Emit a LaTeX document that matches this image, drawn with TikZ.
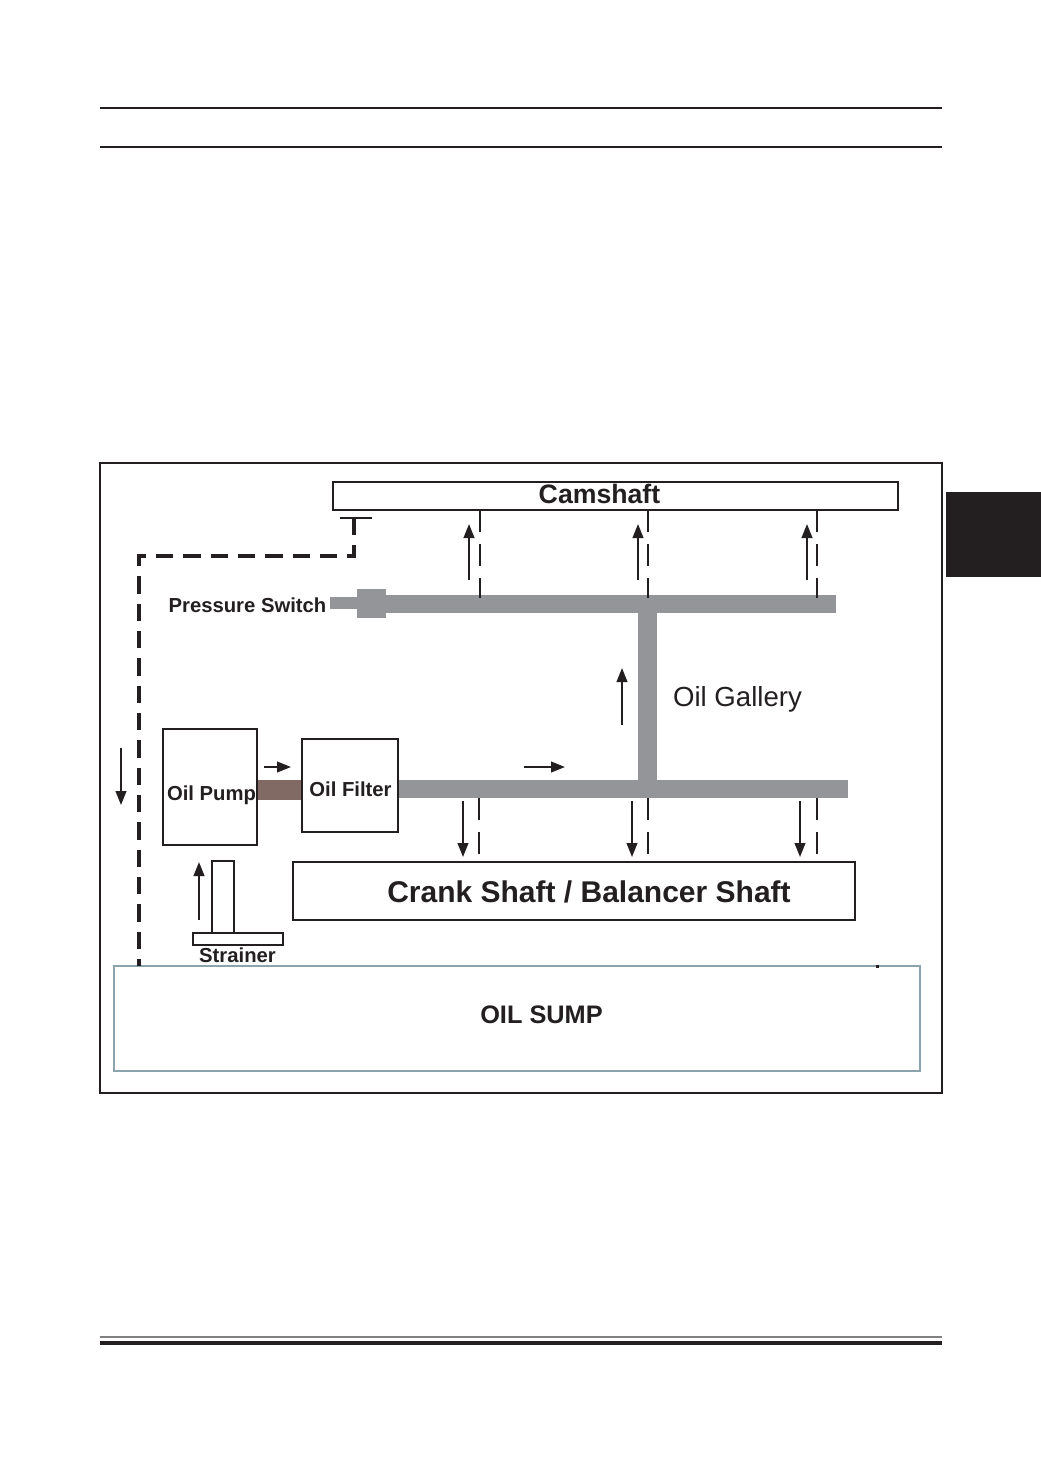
\documentclass[tikz,border=0pt]{standalone}
\usepackage{fontspec}
\setmainfont{Liberation Sans}
\usetikzlibrary{arrows.meta}
\definecolor{pipegrey}{HTML}{939598}
\definecolor{pipebrown}{HTML}{806A63}
\definecolor{sumpblue}{HTML}{8CA2AC}
\definecolor{inkdark}{HTML}{231F20}
\begin{document}
\begin{tikzpicture}[x=0.75pt,y=-0.75pt,
  box/.style={draw=inkdark, line width=1.5pt, fill=white, inner sep=0pt},
  flow/.style={draw=inkdark, line width=1.5pt, -{Triangle[length=10.5pt,width=8pt]}},
  feed/.style={draw=inkdark, line width=1.8pt, dash pattern=on 16.5pt off 9pt},
  retline/.style={draw=inkdark, line width=2.8pt, dash pattern=on 13pt off 7.5pt},
  pipe/.style={fill=pipegrey, draw=none},
  lbl/.style={font=\bfseries\fontsize{15.2}{18}\selectfont, inner sep=0pt, anchor=base, text=inkdark},
  rule/.style={draw=inkdark, line width=1.8pt}]
\useasboundingbox (0,0) rectangle (1041,1472);
\fill[white] (0,0) rectangle (1041,1472);

% page header / footer rules and tab
\draw[rule] (100,108) -- (942,108);
\draw[rule] (100,147) -- (942,147);
\draw[draw=gray, line width=1.6pt] (100,1337) -- (942,1337);
\draw[draw=inkdark, line width=3.2pt] (100,1343) -- (942,1343);
\fill[inkdark] (946,492) rectangle (1041,577);

% outer frame
\draw[draw=inkdark, line width=1.1pt] (100,463) rectangle (942,1093);

% pipes
\fill[pipe] (386,595) rectangle (836,613);
\fill[pipe] (330,597) rectangle (358,609);
\fill[pipe] (357,589) rectangle (386,618);
\fill[pipe] (638,613) rectangle (657,780);
\fill[pipe] (398,780) rectangle (848,798);
\fill[pipebrown] (257,780) rectangle (302,800);

% boxes
\node[box, minimum width=423.75pt, minimum height=21pt] (cam) at (615.5,496) {};
\node[box, minimum width=70.5pt, minimum height=87pt] (pump) at (210,787) {};
\node[box, minimum width=72pt, minimum height=69.75pt] (filter) at (350,785.5) {};
\node[box, minimum width=421.5pt, minimum height=43.5pt] (crank) at (574,891) {};
\node[draw=sumpblue, line width=1.5pt, fill=white, inner sep=0pt, minimum width=604.5pt, minimum height=78.75pt] (sump) at (517,1018.5) {};
\node[box, line width=1.3pt, minimum width=16.5pt, minimum height=54pt] (stem) at (223,897) {};
\node[box, line width=1.3pt, minimum width=67.5pt, minimum height=9pt] (strbase) at (238,939) {};

% labels
\node[lbl, font=\bfseries\fontsize{20}{24}\selectfont] (camlbl) at (599.5,503.5) {Camshaft};
\node[lbl] (pslbl) at (247.5,612) {Pressure Switch};
\node[lbl, font=\fontsize{20.7}{24}\selectfont] (gallbl) at (737.5,706) {Oil Gallery};
\node[lbl] (pumplbl) at (211.5,800) {Oil Pump};
\node[lbl] (filtlbl) at (350.5,796) {Oil Filter};
\node[lbl, font=\bfseries\fontsize{22.5}{26}\selectfont] (cranklbl) at (589,902) {Crank Shaft / Balancer Shaft};
\node[lbl] (strlbl) at (237.5,962) {Strainer};
\node[lbl, font=\bfseries\fontsize{19}{22}\selectfont] (sumplbl) at (541.5,1023) {OIL SUMP};

% camshaft feeds (dashed) and up arrows
\foreach \i/\x in {1/480,2/648,3/817}{
  \coordinate (cf\i t) at (\x,510);
  \coordinate (cf\i b) at (\x,598);
  \draw[feed] (cf\i t) -- (cf\i b);
}
\foreach \i/\x in {1/469,2/638,3/807}{
  \coordinate (ua\i s) at (\x,580);
  \coordinate (ua\i e) at (\x,524);
  \draw[flow] (ua\i s) -- (ua\i e);
}

% crank feeds (dashed) and down arrows
\foreach \i/\x in {1/479,2/648,3/817}{
  \coordinate (kf\i t) at (\x,798);
  \coordinate (kf\i b) at (\x,857);
  \draw[feed] (kf\i t) -- (kf\i b);
}
\foreach \i/\x in {1/463,2/632,3/800}{
  \coordinate (da\i s) at (\x,801);
  \coordinate (da\i e) at (\x,857);
  \draw[flow] (da\i s) -- (da\i e);
}

% other flow arrows
\coordinate (ga s) at (622,725); \coordinate (ga e) at (622,668);
\draw[flow] (ga s) -- (ga e);
\coordinate (pf s) at (264,767); \coordinate (pf e) at (291,767);
\draw[flow] (pf s) -- (pf e);
\coordinate (lg s) at (524,767); \coordinate (lg e) at (565,767);
\draw[flow] (lg s) -- (lg e);
\coordinate (rt s) at (121,748); \coordinate (rt e) at (121,805);
\draw[flow] (rt s) -- (rt e);
\coordinate (st s) at (199,920); \coordinate (st e) at (199,862);
\draw[flow] (st s) -- (st e);

% pressure switch return line
\coordinate (tl) at (340,518); \coordinate (tr) at (372,518);
\draw[draw=inkdark, line width=1.6pt] (tl) -- (tr);
\coordinate (tm) at (354,518);
\coordinate (c1) at (354,556);
\coordinate (c2) at (139,556);
\coordinate (c3) at (139,966);
\draw[retline] (tm) -- (c1) -- (c2) -- (c3);

% small dot on sump edge
\fill[inkdark] (875.5,964.5) rectangle (878.5,967.5);
\end{tikzpicture}
\end{document}
